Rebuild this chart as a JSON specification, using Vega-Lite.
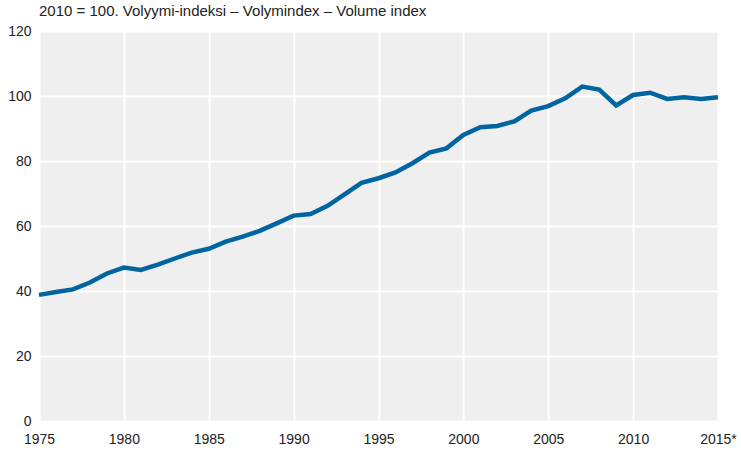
{
  "$schema": "https://vega.github.io/schema/vega-lite/v6.json",
  "width": 679,
  "height": 390,
  "autosize": {"type": "none"},
  "padding": {"left": 39, "top": 31, "right": 23, "bottom": 31},
  "background": "#ffffff",
  "title": {
    "text": "2010 = 100. Volyymi-indeksi – Volymindex – Volume index",
    "anchor": "start",
    "frame": "group",
    "baseline": "alphabetic",
    "offset": -7,
    "fontSize": 15,
    "fontWeight": "normal",
    "font": "Liberation Sans",
    "color": "#222222"
  },
  "config": {
    "view": {"fill": "#efefef", "stroke": null},
    "axis": {
      "labelFont": "Liberation Sans",
      "labelFontSize": 14,
      "labelColor": "#222222",
      "grid": true,
      "gridColor": "#ffffff",
      "gridWidth": 2,
      "domain": false,
      "ticks": false,
      "title": null
    }
  },
  "data": {
    "values": [
      {"year": 1975, "index": 38.8},
      {"year": 1976, "index": 39.7},
      {"year": 1977, "index": 40.5},
      {"year": 1978, "index": 42.6},
      {"year": 1979, "index": 45.4},
      {"year": 1980, "index": 47.2},
      {"year": 1981, "index": 46.5},
      {"year": 1982, "index": 48.1},
      {"year": 1983, "index": 50.0},
      {"year": 1984, "index": 51.8},
      {"year": 1985, "index": 53.0},
      {"year": 1986, "index": 55.2},
      {"year": 1987, "index": 56.7},
      {"year": 1988, "index": 58.5},
      {"year": 1989, "index": 60.8},
      {"year": 1990, "index": 63.2},
      {"year": 1991, "index": 63.7},
      {"year": 1992, "index": 66.2},
      {"year": 1993, "index": 69.7},
      {"year": 1994, "index": 73.3},
      {"year": 1995, "index": 74.7},
      {"year": 1996, "index": 76.5},
      {"year": 1997, "index": 79.3},
      {"year": 1998, "index": 82.6},
      {"year": 1999, "index": 83.9},
      {"year": 2000, "index": 88.0},
      {"year": 2001, "index": 90.4},
      {"year": 2002, "index": 90.8},
      {"year": 2003, "index": 92.2},
      {"year": 2004, "index": 95.5},
      {"year": 2005, "index": 96.9},
      {"year": 2006, "index": 99.3},
      {"year": 2007, "index": 102.9},
      {"year": 2008, "index": 102.0},
      {"year": 2009, "index": 97.1},
      {"year": 2010, "index": 100.3},
      {"year": 2011, "index": 101.0},
      {"year": 2012, "index": 99.1},
      {"year": 2013, "index": 99.6},
      {"year": 2014, "index": 99.1},
      {"year": 2015, "index": 99.6}
    ]
  },
  "mark": {"type": "line", "color": "#0064a0", "strokeWidth": 4.5, "strokeJoin": "miter", "clip": false},
  "encoding": {
    "x": {
      "field": "year",
      "type": "quantitative",
      "scale": {"domain": [1975, 2015], "nice": false, "zero": false},
      "axis": {
        "values": [1975, 1980, 1985, 1990, 1995, 2000, 2005, 2010, 2015],
        "labelExpr": "datum.value == 2015 ? '2015*' : '' + datum.value",
        "labelPadding": 11,
        "labelFlush": false,
        "labelOverlap": false,
        "format": "d"
      }
    },
    "y": {
      "field": "index",
      "type": "quantitative",
      "scale": {"domain": [0, 120], "nice": false},
      "axis": {
        "values": [0, 20, 40, 60, 80, 100, 120],
        "labelPadding": 8,
        "labelFlush": false
      }
    }
  }
}
